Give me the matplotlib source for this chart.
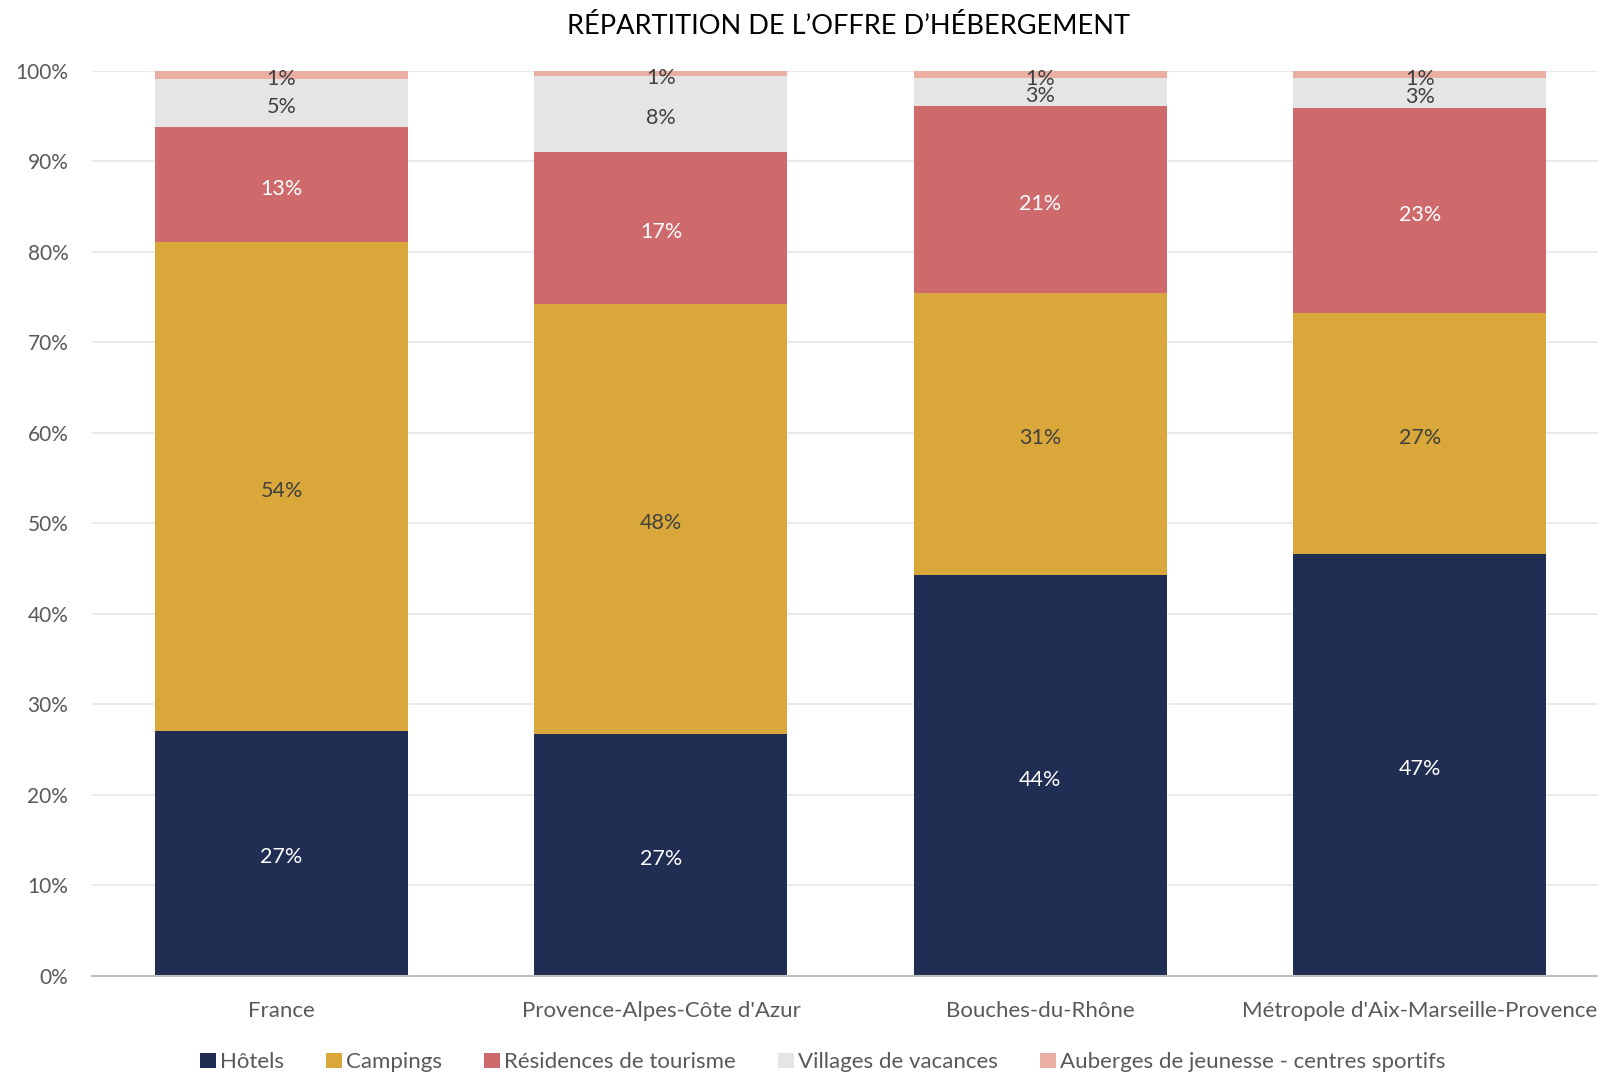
import matplotlib
matplotlib.use('Agg')
import matplotlib.pyplot as plt
import numpy as np
from matplotlib.ticker import PercentFormatter

#%% Data (shares in %)

categories = ['France', "Provence-Alpes-Côte d'Azur", 'Bouches-du-Rhône',
              "Métropole d'Aix-Marseille-Provence"]
series_names = ['Hôtels', 'Campings', 'Résidences de tourisme',
                'Villages de vacances', 'Auberges de jeunesse - centres sportifs']
hotels = [27.1, 26.7, 44.3, 46.6]
campings = [54.0, 47.6, 31.2, 26.7]
residences = [12.7, 16.8, 20.6, 22.6]
villages = [5.3, 8.3, 3.1, 3.3]
auberges = [0.9, 0.6, 0.8, 0.8]

colors = ['#212E53', '#DAA83A', '#CE6A6B', '#E5E5E5', '#EBAEA3']
label_colors = ['white', '#404040', 'white', '#404040', '#404040']

#%% Plot

plt.rcParams['font.family'] = ['Lato', 'DejaVu Sans']

fig = plt.figure(figsize=(15.98, 10.72), dpi=100)
ax = fig.add_axes([0.0575, 0.0896, 0.9425, 0.8442])

x = np.arange(len(categories))
bottom = np.zeros(len(categories))
for name, vals, col, lcol in zip(series_names,
                                 [hotels, campings, residences, villages, auberges],
                                 colors, label_colors):
    vals = np.array(vals)
    ax.bar(x, vals, width=0.667, bottom=bottom, color=col, label=name, zorder=2)
    for xi, b, v in zip(x, bottom, vals):
        ax.annotate('%d%%' % round(v if v >= 1 else 1), (xi, b + v / 2),
                    xytext=(0, -3), textcoords='offset points',
                    ha='center', va='center', color=lcol, fontsize=15.5, zorder=3)
    bottom += vals

ax.set_xlim(-0.5, 3.47)
ax.set_ylim(0, 100)
ax.yaxis.set_major_locator(plt.MultipleLocator(10))
ax.yaxis.set_major_formatter(PercentFormatter(decimals=0))
ax.set_xticks(x)
ax.set_xticklabels(categories)
ax.tick_params(axis='both', length=0, labelsize=15, labelcolor='#595959')
ax.tick_params(axis='x', labelsize=16, pad=18)
ax.tick_params(axis='y', pad=17)
ax.grid(axis='y', color='#E8E8E8', linewidth=1.3, zorder=0)
for s in ['top', 'right', 'left']:
    ax.spines[s].set_visible(False)
ax.spines['bottom'].set_color('#BFBFBF')
ax.spines['bottom'].set_linewidth(1.5)

fig.text(0.531, 0.975, 'RÉPARTITION DE L\u2019OFFRE D\u2019HÉBERGEMENT', ha='center', va='center',
         fontsize=19.5, color='black')

leg = fig.legend(loc='center', bbox_to_anchor=(0.515, 0.009), ncol=5, frameon=False,
                 fontsize=16, handlelength=0.7, handleheight=0.7, handletextpad=0.2,
                 columnspacing=1.9)
for t in leg.get_texts():
    t.set_color('#595959')

plt.savefig('out.png', dpi=100)
plt.close()
